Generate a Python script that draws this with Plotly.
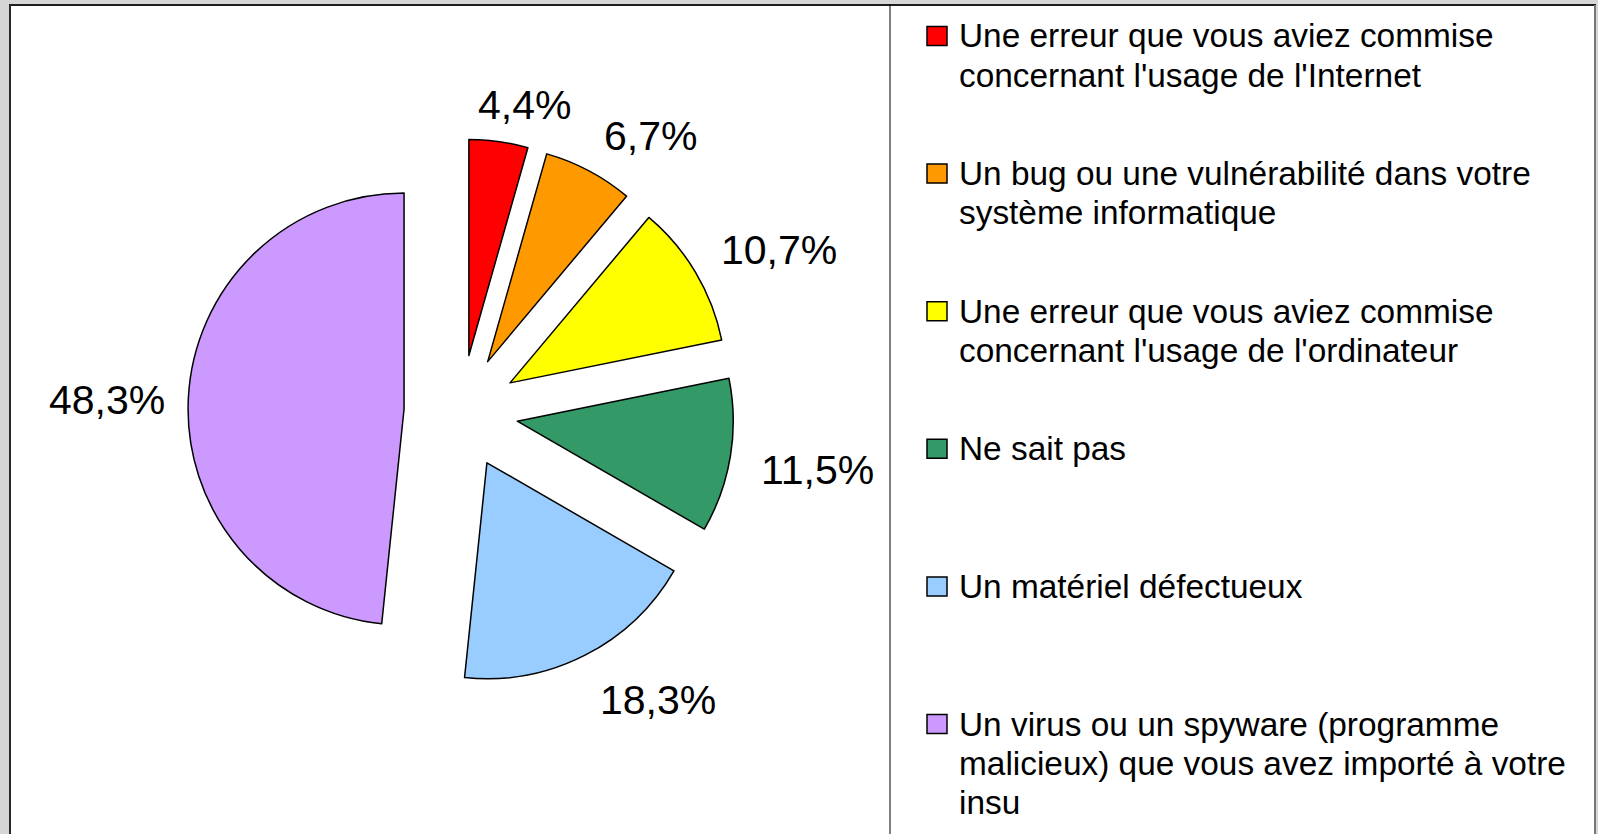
import math
import plotly.graph_objects as go

# ---- data ----
categories = [
    "Une erreur que vous aviez commise<br>concernant l'usage de l'Internet",
    "Un bug ou une vulnérabilité dans votre<br>système informatique",
    "Une erreur que vous aviez commise<br>concernant l'usage de l'ordinateur",
    "Ne sait pas",
    "Un matériel défectueux",
    "Un virus ou un spyware (programme<br>malicieux) que vous avez importé à votre<br>insu",
]
values = [4.4, 6.7, 10.7, 11.5, 18.3, 48.3]
colors = ["#ff0000", "#ff9900", "#ffff00", "#339966", "#99ccff", "#cc99ff"]

W, H = 1598, 834
FONT = "Liberation Sans, Arial, sans-serif"

def px(x):
    return x / W

def py(y):
    return 1 - y / H

# pie geometry (pixels)
cx, cy, D = 461, 412, 546
pull = 0.264
r = D / (2 * (1 + pull))

fig = go.Figure()
fig.add_trace(go.Pie(
    labels=[c.replace("<br>", " ") for c in categories],
    values=values,
    sort=False,
    direction="clockwise",
    rotation=0,
    pull=[pull] * len(values),
    marker=dict(colors=colors, line=dict(color="black", width=1.5)),
    textinfo="none",
    domain=dict(x=[px(cx - D / 2), px(cx + D / 2)], y=[py(cy + D / 2), py(cy - D / 2)]),
    showlegend=False,
    automargin=False,
    hoverinfo="label+percent",
))

annotations = []

# percentage labels, placed outside each pulled slice along its bisector
LAB_SIZE = 41
total = sum(values)
cum = 0.0
for v in values:
    theta = math.radians((cum + v / 2) / total * 360)
    cum += v
    ux, uy = math.sin(theta), -math.cos(theta)
    txt = f"{v:.1f}%".replace(".", ",")
    ndig = sum(ch.isdigit() for ch in txt)
    hw = 0.5 * LAB_SIZE * (0.556 * ndig + 0.278 + 0.889)
    hh = 22
    R = r * (1 + pull) + 20
    lx = cx + ux * R * 1.02 + hw * max(-1, min(1, ux * 3.0)) + 3
    ly = cy + uy * R + hh * max(-1, min(1, uy * 1.5)) + 5
    annotations.append(dict(x=px(lx), y=py(ly), xref="paper", yref="paper", text=txt,
                            showarrow=False, xanchor="center", yanchor="middle",
                            font=dict(family=FONT, size=LAB_SIZE, color="black")))

shapes = [
    # white frame
    dict(type="rect", xref="paper", yref="paper", x0=px(10), x1=px(1595), y0=-0.05, y1=py(5),
         fillcolor="white", line=dict(width=0), layer="below"),
    dict(type="line", xref="paper", yref="paper", x0=px(9), x1=px(1596), y0=py(5), y1=py(5),
         line=dict(color="#1e1e1e", width=2)),
    dict(type="line", xref="paper", yref="paper", x0=px(10), x1=px(10), y0=-0.05, y1=py(5),
         line=dict(color="#2a2a2a", width=2)),
    dict(type="line", xref="paper", yref="paper", x0=px(1595), x1=px(1595), y0=-0.05, y1=py(5),
         line=dict(color="#777777", width=2)),
    # legend separator
    dict(type="line", xref="paper", yref="paper", x0=px(890), x1=px(890), y0=-0.05, y1=py(5),
         line=dict(color="black", width=1)),
]

item_y0, item_step, line_step = 36, 137.6, 39
for i, (cat, col) in enumerate(zip(categories, colors)):
    yc = item_y0 + i * item_step
    shapes.append(dict(type="rect", xref="paper", yref="paper",
                       x0=px(927), x1=px(947), y0=py(yc + 9.5), y1=py(yc - 9.5),
                       fillcolor=col, line=dict(color="black", width=1.5)))
    for k, line in enumerate(cat.split("<br>")):
        annotations.append(dict(x=px(957), y=py(yc + k * line_step), xref="paper", yref="paper",
                                text=line, showarrow=False, xanchor="left", yanchor="middle",
                                font=dict(family=FONT, size=33.4, color="black")))

fig.update_layout(
    width=W, height=H,
    margin=dict(l=0, r=0, t=0, b=0, pad=0, autoexpand=False),
    paper_bgcolor="#d6d6d6",
    plot_bgcolor="white",
    separators=", ",
    shapes=shapes,
    annotations=annotations,
)

fig.write_html("out.html",
               config={"displayModeBar": False},
               post_script="document.body.style.margin='0';document.body.style.overflow='hidden';")
